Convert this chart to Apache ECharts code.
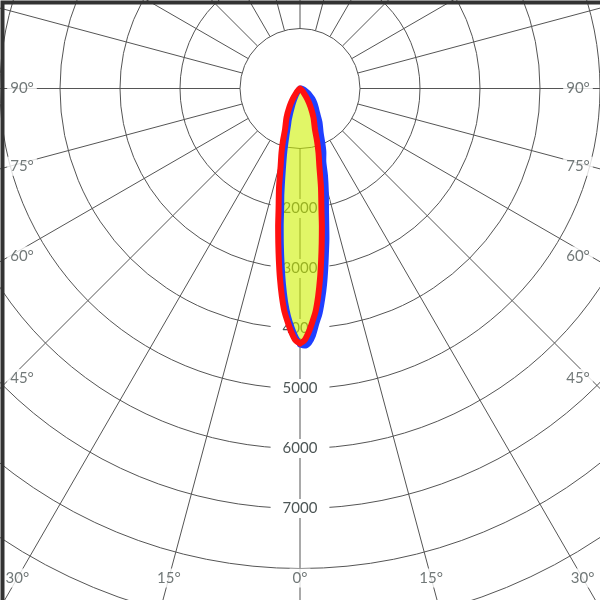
<!DOCTYPE html>
<html><head><meta charset="utf-8">
<style>html,body{margin:0;padding:0;background:#fff}#c{width:600px;height:600px}</style>
<script src="https://cdn.jsdelivr.net/npm/echarts@6/dist/echarts.min.js"></script>
</head><body><div id="c"></div>
<script>
// gamma angles (deg from nadir) for each half-plane
const gammaAngles = [0,1,2,3,4,5,6,7,8,9,10,12,14,16,18,20,25,30,35,40,45,50,55,60,70,80,90,120,150,180];
// red curve (symmetric), cd
const redValues   = [4250,4200,4070,3900,3725,3475,3190,2890,2600,2330,2060,1680,1335,1120,920,730,530,350,210,100,45,15,0,0,0,0,0,0,0,0];
// blue curve, left half and right half, cd
const blueLeft    = [4266,4150,3990,3805,3565,3265,2940,2620,2310,2005,1790,1375,1080,825,650,540,300,170,80,30,0,0,0,0,0,0,0,0,0,0];
const blueRight   = [4266,4285,4245,4120,3922,3755,3530,3290,3025,2765,2535,2085,1780,1510,1255,1140,815,650,495,405,335,270,200,150,80,40,20,0,0,0];
// tick labels
const radialLabels = [2000,3000,4000,5000,6000,7000];
const angleTicks = [0,15,30,45,60,75,90];

const CX = 300, CY = 88.5, R_OUT = 600, R_MAX = 10000;
const textColor = '#4d5656', lineColor = '#555', font = 'Lato';

function closedPath(left, right){
  const d = [];
  for (let i = 0; i < gammaAngles.length; i++) d.push([left[i], gammaAngles[i]]);
  for (let i = gammaAngles.length - 1; i >= 0; i--) d.push([right[i], 360 - gammaAngles[i]]);
  return d;
}
const redPath = closedPath(redValues, redValues);
const bluePath = closedPath(blueLeft, blueRight);

// angle labels placed where each spoke meets the picture edge
function edgeLabel(deg, sideSign){
  const a = deg * Math.PI / 180, s = Math.sin(a), c = Math.cos(a);
  const tSide = s > 1e-9 ? (CX - 10) / s : Infinity;
  const tBot = c > 1e-9 ? (578 - CY) / c : Infinity;
  const side = tSide < tBot;
  const t = side ? tSide : tBot;
  return {
    name: deg + '°',
    value: [t / R_OUT * R_MAX, sideSign < 0 ? deg : (360 - deg) % 360],
    label: { offset: side ? [sideSign < 0 ? 12 : -12, 0] : [0, 0] }
  };
}
const angleLabelData = [];
angleTicks.forEach(d => { angleLabelData.push(edgeLabel(d, -1)); if (d !== 0) angleLabelData.push(edgeLabel(d, 1)); });

const chart = echarts.init(document.getElementById('c'), null, {renderer: 'canvas'});
chart.setOption({
  animation: false,
  backgroundColor: '#fff',
  polar: [
    { center: [CX, CY], radius: [60, R_OUT] },
    { center: [CX, CY], radius: [0, R_OUT] }
  ],
  angleAxis: [
    { polarIndex: 0, type: 'value', min: 0, max: 360, interval: 15, startAngle: -90, clockwise: true,
      axisLine: {show: false}, axisTick: {show: false}, axisLabel: {show: false},
      splitLine: {show: true, lineStyle: {color: lineColor, width: 1}} },
    { polarIndex: 1, type: 'value', min: 0, max: 360, startAngle: -90, clockwise: true, show: false,
      axisLine: {show: false}, axisTick: {show: false}, axisLabel: {show: false}, splitLine: {show: false} }
  ],
  radiusAxis: [
    { polarIndex: 0, type: 'value', min: 1000, max: R_MAX, interval: 1000, z: 1,
      axisLine: {show: false}, axisTick: {show: false},
      splitLine: {show: true, lineStyle: {color: lineColor, width: 1}},
      axisLabel: { show: true, margin: 0, align: 'center', verticalAlign: 'middle',
        formatter: v => radialLabels.includes(v) ? '{b|' + v + '}' : '',
        rich: { b: { backgroundColor: '#fff', padding: [2, 12], color: textColor, fontSize: 15, fontFamily: font } } } },
    { polarIndex: 1, type: 'value', min: 0, max: R_MAX, show: false,
      axisLine: {show: false}, axisTick: {show: false}, axisLabel: {show: false}, splitLine: {show: false} }
  ],
  series: [
    { type: 'line', coordinateSystem: 'polar', polarIndex: 1, data: redPath, symbol: 'none', z: 2, smooth: 0.25,
      lineStyle: {width: 0, opacity: 0}, areaStyle: {color: 'rgba(204,240,0,0.85)'} },
    { type: 'line', coordinateSystem: 'polar', polarIndex: 1, data: bluePath, symbol: 'none', z: 3, smooth: 0.25,
      lineStyle: {width: 6, color: '#1f3fff', join: 'round', cap: 'round'} },
    { type: 'line', coordinateSystem: 'polar', polarIndex: 1, data: redPath, symbol: 'none', z: 4, smooth: 0.25,
      lineStyle: {width: 6, color: '#ff1010', join: 'round', cap: 'round'} },
    { type: 'scatter', coordinateSystem: 'polar', polarIndex: 1, data: angleLabelData, symbolSize: 0, z: 5,
      label: { show: true, position: 'inside', formatter: '{b}', color: textColor, fontSize: 15, fontFamily: font,
        backgroundColor: '#fff', padding: [2, 3] } }
  ],
  graphic: [
    { type: 'rect', left: 0, top: 0, z: 100, silent: true, shape: {width: 600, height: 600},
      style: {fill: 'none', stroke: '#333', lineWidth: 4} }
  ]
});
</script></body></html>
